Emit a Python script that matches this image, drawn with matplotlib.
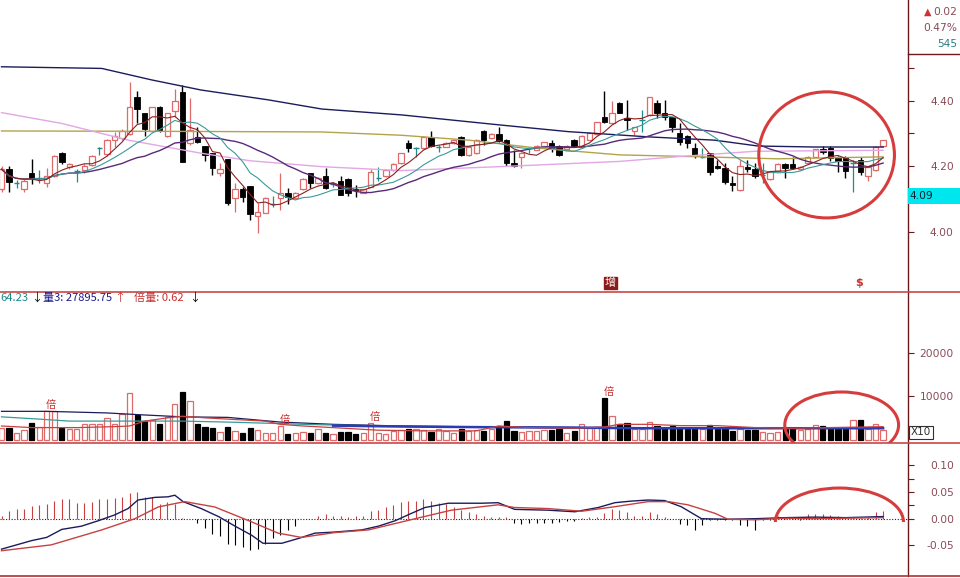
import matplotlib
matplotlib.use("Agg")
import matplotlib.pyplot as plt
import matplotlib.transforms as mtransforms
import pandas as pd
from matplotlib.patches import Ellipse, Arc, Rectangle
from matplotlib.lines import Line2D

# ---- price data (one candle per day) ----
opens = [4.13, 4.19, 4.147, 4.13, 4.178, 4.163, 4.147, 4.168, 4.239, 4.196,
         4.186, 4.188, 4.203, 4.254, 4.237, 4.278, 4.285, 4.298, 4.410, 4.361,
         4.308, 4.379, 4.292, 4.369, 4.427, 4.270, 4.290, 4.261, 4.239, 4.180,
         4.221, 4.102, 4.129, 4.139, 4.048, 4.058, 4.084, 4.101, 4.119, 4.102,
         4.129, 4.178, 4.147, 4.168, 4.145, 4.153, 4.160, 4.131, 4.119, 4.137,
         4.163, 4.168, 4.188, 4.209, 4.270, 4.254, 4.254, 4.290, 4.259, 4.259,
         4.270, 4.290, 4.234, 4.239, 4.308, 4.285, 4.298, 4.280, 4.209, 4.229,
         4.254, 4.250, 4.261, 4.270, 4.261, 4.251, 4.280, 4.257, 4.280, 4.298,
         4.351, 4.331, 4.392, 4.346, 4.308, 4.341, 4.356, 4.392, 4.363, 4.349,
         4.300, 4.292, 4.254, 4.229, 4.239, 4.200, 4.193, 4.149, 4.127, 4.198,
         4.190, 4.173, 4.160, 4.186, 4.206, 4.206, 4.190, 4.209, 4.229, 4.251,
         4.254, 4.229, 4.229, 4.209, 4.219, 4.168, 4.188, 4.261]
highs = [4.20, 4.20, 4.158, 4.16, 4.222, 4.188, 4.193, 4.235, 4.242, 4.210,
         4.19, 4.205, 4.235, 4.259, 4.283, 4.305, 4.312, 4.457, 4.430, 4.361,
         4.381, 4.383, 4.363, 4.436, 4.448, 4.407, 4.320, 4.262, 4.240, 4.208,
         4.222, 4.147, 4.135, 4.140, 4.086, 4.104, 4.108, 4.178, 4.132, 4.121,
         4.162, 4.180, 4.165, 4.193, 4.150, 4.168, 4.162, 4.143, 4.131, 4.190,
         4.198, 4.192, 4.208, 4.241, 4.280, 4.257, 4.292, 4.308, 4.264, 4.272,
         4.282, 4.292, 4.259, 4.282, 4.309, 4.300, 4.318, 4.282, 4.250, 4.243,
         4.258, 4.263, 4.274, 4.280, 4.263, 4.263, 4.282, 4.294, 4.304, 4.335,
         4.430, 4.400, 4.394, 4.402, 4.320, 4.371, 4.412, 4.402, 4.402, 4.350,
         4.330, 4.294, 4.270, 4.254, 4.241, 4.218, 4.208, 4.168, 4.218, 4.218,
         4.208, 4.208, 4.185, 4.208, 4.208, 4.228, 4.200, 4.231, 4.253, 4.261,
         4.261, 4.231, 4.231, 4.219, 4.229, 4.200, 4.261, 4.280]
lows = [4.12, 4.12, 4.132, 4.12, 4.145, 4.147, 4.137, 4.165, 4.205, 4.190,
        4.15, 4.18, 4.20, 4.234, 4.232, 4.259, 4.280, 4.296, 4.331, 4.292,
        4.305, 4.305, 4.290, 4.351, 4.211, 4.264, 4.270, 4.214, 4.173, 4.168,
        4.081, 4.061, 4.091, 4.035, 3.995, 4.056, 4.076, 4.066, 4.084, 4.100,
        4.127, 4.132, 4.145, 4.130, 4.135, 4.112, 4.107, 4.105, 4.117, 4.135,
        4.155, 4.166, 4.186, 4.207, 4.244, 4.229, 4.252, 4.259, 4.244, 4.257,
        4.268, 4.232, 4.232, 4.237, 4.264, 4.283, 4.273, 4.200, 4.198, 4.193,
        4.240, 4.248, 4.259, 4.244, 4.232, 4.249, 4.259, 4.255, 4.278, 4.296,
        4.331, 4.329, 4.361, 4.310, 4.295, 4.305, 4.354, 4.346, 4.341, 4.305,
        4.264, 4.254, 4.224, 4.224, 4.173, 4.191, 4.145, 4.125, 4.125, 4.183,
        4.163, 4.148, 4.158, 4.184, 4.163, 4.190, 4.188, 4.207, 4.227, 4.237,
        4.214, 4.183, 4.163, 4.122, 4.173, 4.153, 4.186, 4.259]
closes = [4.19, 4.15, 4.147, 4.153, 4.163, 4.163, 4.168, 4.231, 4.211, 4.206,
          4.186, 4.200, 4.231, 4.254, 4.280, 4.292, 4.308, 4.379, 4.373, 4.312,
          4.379, 4.308, 4.361, 4.400, 4.211, 4.310, 4.272, 4.234, 4.193, 4.190,
          4.088, 4.129, 4.105, 4.054, 4.060, 4.102, 4.084, 4.117, 4.105, 4.119,
          4.160, 4.147, 4.162, 4.132, 4.145, 4.112, 4.119, 4.127, 4.129, 4.183,
          4.163, 4.188, 4.206, 4.239, 4.254, 4.254, 4.290, 4.261, 4.259, 4.270,
          4.280, 4.234, 4.257, 4.280, 4.280, 4.298, 4.275, 4.209, 4.200, 4.241,
          4.254, 4.261, 4.272, 4.254, 4.234, 4.261, 4.261, 4.292, 4.302, 4.333,
          4.333, 4.363, 4.363, 4.342, 4.318, 4.341, 4.410, 4.363, 4.351, 4.320,
          4.272, 4.270, 4.231, 4.229, 4.183, 4.193, 4.152, 4.142, 4.200, 4.190,
          4.170, 4.173, 4.183, 4.206, 4.193, 4.193, 4.198, 4.229, 4.251, 4.243,
          4.224, 4.214, 4.186, 4.209, 4.183, 4.198, 4.259, 4.278]

# long moving averages (candle index, price)
ma60_idx = [0, 8, 16.8, 26.5, 33, 42.5, 53, 66, 75, 82, 90, 100, 117]
ma60 = [4.363, 4.33, 4.279, 4.239, 4.216, 4.198, 4.186, 4.198, 4.207, 4.214, 4.229, 4.245, 4.248]
ma120_idx = [0, 20, 42.5, 53, 62, 71, 82, 93, 103, 117]
ma120 = [4.307, 4.306, 4.304, 4.294, 4.279, 4.255, 4.234, 4.228, 4.222, 4.228]
ma250_idx = [0, 13.3, 19.9, 26.5, 35.4, 42.5, 53.1, 66.3, 75.2, 85.8, 94.6, 100.4, 107.9, 117]
ma250 = [4.503, 4.498, 4.463, 4.432, 4.402, 4.374, 4.356, 4.325, 4.305, 4.289, 4.279, 4.261, 4.258, 4.258]

# ---- volume ----
volumes = [2850, 2850, 1720, 2250, 3970, 3000, 6590, 6590, 2850, 2620,
           2470, 3600, 3600, 3600, 5090, 3600, 5990, 10710, 5840, 4340,
           4570, 3600, 5320, 8240, 10940, 8990, 3600, 3070, 2700, 1870,
           3070, 2100, 1570, 2700, 2320, 1570, 1570, 3220, 1350, 1720,
           1870, 1720, 2620, 1720, 1350, 1870, 1870, 1350, 1720, 3970,
           1570, 1350, 2100, 2320, 2470, 2470, 2320, 1870, 2470, 2100,
           1570, 2470, 2100, 2320, 2100, 2470, 3220, 4340, 2100, 1870,
           2100, 2100, 2250, 2320, 2620, 1570, 2100, 3600, 2850, 3000,
           9590, 5470, 3600, 3820, 2470, 2470, 4120, 3220, 2850, 3220,
           2850, 2620, 2470, 2470, 3370, 2470, 2620, 2100, 2470, 2320,
           2320, 1870, 1720, 1870, 2470, 2470, 2320, 2470, 3370, 3220,
           2470, 2620, 2470, 4570, 4570, 2470, 3600, 2320]
bei_marks = [6, 37, 49, 80]

vma_navy_idx = [0, 6, 14, 18, 24, 30, 37, 44, 53, 64, 75, 85, 95, 105, 117]
vma_navy = [6590, 6590, 6220, 5840, 5320, 5200, 4120, 3600, 3220, 3000, 2900, 2850, 2850, 2850, 2850]
vma_teal_idx = [0, 5, 9, 18, 24, 30, 36, 40, 50, 60]
vma_teal = [5320, 4800, 4345, 4345, 4345, 4120, 3820, 3600, 3220, 2900]
vma_red_idx = [0, 4, 10, 15, 17, 19, 22, 24, 27, 30, 35, 37, 40, 44, 50, 56, 63,
               66, 70, 76, 80, 82, 86, 90, 95, 100, 105, 110, 117]
vma_red = [3220, 2850, 2850, 3070, 3220, 4345, 5090, 5470, 5090, 4800, 4340, 3600, 3220, 2850, 2250, 2100, 2100,
           3220, 2850, 2700, 3000, 3600, 3600, 3300, 3300, 2850, 2700, 2850, 3070]
vma_blue_idx = [44, 53, 64, 75, 85, 95, 105, 117]
vma_blue = [3300, 3100, 2950, 2850, 2700, 2700, 2700, 2700]

# ---- MACD ----
macd_hist = [0.006, 0.014, 0.019, 0.019, 0.023, 0.025, 0.027, 0.034, 0.036, 0.036,
             0.030, 0.030, 0.032, 0.036, 0.036, 0.039, 0.040, 0.048, 0.050, 0.040,
             0.040, 0.028, 0.032, 0.028, 0.001, 0.0, -0.008, -0.017, -0.028, -0.033,
             -0.048, -0.050, -0.053, -0.058, -0.056, -0.047, -0.037, -0.031, -0.022, -0.014,
             0.0, 0.0, 0.006, 0.009, 0.006, 0.006, 0.004, 0.006, 0.006, 0.014,
             0.016, 0.021, 0.025, 0.031, 0.034, 0.034, 0.037, 0.033, 0.030, 0.027,
             0.022, 0.017, 0.012, 0.009, 0.006, 0.004, 0.003, 0.004, -0.008, -0.009,
             -0.008, -0.008, -0.008, -0.008, -0.006, -0.005, -0.004, 0.001, 0.003, 0.004,
             0.010, 0.019, 0.017, 0.012, 0.006, 0.006, 0.012, 0.008, 0.004, 0.0,
             -0.010, -0.012, -0.022, -0.012, -0.003, -0.002, -0.002, -0.002, -0.012, -0.013,
             -0.022, -0.003, -0.002, 0.006, 0.002, 0.002, -0.002, 0.009, 0.009, 0.008,
             0.007, 0.006, 0.002, 0.002, 0.002, 0.003, 0.013, 0.014]
dif_idx = [0, 4.0, 6.0, 8.0, 10.6, 12.8, 15.0, 16.8, 18.1, 20.4, 22.1, 23.0, 24.1, 26.5, 28.8,
           31.0, 33.2, 34.7, 37.2, 39.4, 41.6, 44.2, 47.8, 50.0, 52.2, 54.4, 56.2, 59.3, 63.7,
           65.9, 68.1, 72.5, 76.1, 79.2, 81.4, 83.6, 85.8, 88.0, 90.2, 92.9, 96.4, 100, 104, 108, 112, 117]
dif = [-0.057, -0.041, -0.035, -0.020, -0.014, -0.004, 0.007, 0.019, 0.035, 0.040, 0.041, 0.044, 0.032, 0.019, 0.004,
       -0.014, -0.031, -0.046, -0.046, -0.037, -0.027, -0.025, -0.021, -0.014, -0.004, 0.010, 0.021, 0.029, 0.029,
       0.030, 0.0175, 0.016, 0.013, 0.021, 0.030, 0.033, 0.035, 0.034, 0.0225, 0.0, -0.001, 0.0, 0.002, 0.003, 0.002, 0.004]
dea_idx = [0, 6.6, 13.3, 17.7, 20.8, 24.3, 28.3, 33.2, 36.7, 39.8, 44.2, 48.7, 54.9, 59.7, 63.7,
           65.9, 68.1, 72.5, 77.0, 81.4, 85.8, 88.5, 91.1, 94.7, 96.4, 100, 104, 108, 112, 117]
dea = [-0.060, -0.049, -0.021, 0.0, 0.022, 0.032, 0.022, -0.006, -0.027, -0.035, -0.026, -0.021, 0.0, 0.016, 0.0225,
       0.026, 0.021, 0.019, 0.014, 0.0225, 0.032, 0.032, 0.026, 0.010, -0.001, -0.002, 0.001, 0.0, 0.001, 0.002]

n = len(closes)
xs = list(range(n))
cs = pd.Series(closes)
ma5 = cs.rolling(5, min_periods=1).mean()
ma10 = cs.rolling(10, min_periods=1).mean()
ma20 = cs.rolling(20, min_periods=1).mean()

W, H = 960.0, 578.0
fig = plt.figure(figsize=(9.6, 5.78), dpi=100)
fig.patch.set_facecolor("white")
axw = 908 / W
ax_p = fig.add_axes([0, 1 - 292 / H, axw, 292 / H])
ax_v = fig.add_axes([0, 1 - 443 / H, axw, 151 / H])
ax_m = fig.add_axes([0, 1 - 576 / H, axw, 133 / H])

up_col = "#e06a6a"
dn_col = "#000000"
doji_col = "#1f8a8a"
axis_col = "#6a1a1a"
lab_col = "#8a4a58"
sep_col = "#c84848"
circ_col = "#d63c3c"

# candles
for i in xs:
    o, h, l, c = opens[i], highs[i], lows[i], closes[i]
    if c > o:
        ax_p.vlines(i, l, h, color=up_col, lw=0.9, zorder=2)
        ax_p.bar(i, c - o, bottom=o, width=0.72, facecolor="white", edgecolor=up_col, lw=0.9, zorder=3)
    elif c < o:
        ax_p.vlines(i, l, h, color=dn_col, lw=1.0, zorder=2)
        ax_p.bar(i, o - c, bottom=c, width=0.72, facecolor=dn_col, edgecolor=dn_col, lw=0.6, zorder=3)
    else:
        ax_p.vlines(i, l, h, color=doji_col, lw=0.9, zorder=2)
        ax_p.hlines(o, i - 0.36, i + 0.36, color=doji_col, lw=1.0, zorder=3)

ax_p.plot(ma250_idx, ma250, color="#1c1c5c", lw=1.0, zorder=4)
ax_p.plot(ma120_idx, ma120, color="#b3a44a", lw=1.0, zorder=4)
ax_p.plot(ma60_idx, ma60, color="#e3a6e6", lw=1.0, zorder=4)
ax_p.plot(xs, ma20, color="#5a2a7a", lw=1.0, zorder=4)
ax_p.plot(xs, ma10, color="#3a9a9a", lw=0.8, zorder=4)
ax_p.plot(xs, ma5, color="#8b2020", lw=0.8, zorder=4)

ax_p.text(80.8, 3.842, "增", color="white", fontsize=8, ha="center", va="center",
          family=["Noto Sans CJK SC", "DejaVu Sans"],
          bbox=dict(boxstyle="square,pad=0.1", facecolor="#8b1a1a", edgecolor="#8b1a1a"))
ax_p.text(113.8, 3.842, "$", color="#c83030", fontsize=8, ha="center", va="center", fontweight="bold")

ax_p.add_patch(Ellipse((109.5, 4.234), 18, 0.385, fill=False, edgecolor=circ_col, lw=2.2, zorder=6, clip_on=False))

# volume
vfc = ["white" if closes[i] >= opens[i] else dn_col for i in xs]
vec = [up_col if closes[i] >= opens[i] else dn_col for i in xs]
ax_v.bar(xs, volumes, width=0.7, color=vfc, edgecolor=vec, lw=0.9, zorder=2)
ax_v.plot(vma_navy_idx, vma_navy, color="#1c1c5c", lw=0.9, zorder=3)
ax_v.plot(vma_teal_idx, vma_teal, color="#3a9a9a", lw=0.9, zorder=3)
ax_v.plot(vma_blue_idx, vma_blue, color="#2a3cb0", lw=1.8, zorder=3)
ax_v.plot(vma_red_idx, vma_red, color="#c84040", lw=0.9, zorder=3)
for k in bei_marks:
    ax_v.text(k - 0.1, volumes[k] + 200, "倍", color="#c83030", fontsize=7.5, ha="left", va="bottom",
              family=["Noto Sans CJK SC", "DejaVu Sans"], zorder=5)
ax_v.add_patch(Ellipse((111.5, 3450), 15.1, 15170, fill=False, edgecolor=circ_col, lw=2.2, zorder=6, clip_on=False))

# MACD
hcol = ["#c84040" if v > 0 else dn_col for v in macd_hist]
ax_m.vlines(xs, 0, macd_hist, colors=hcol, lw=0.8, zorder=2)
ax_m.axhline(0, color="#222222", lw=0.8, ls=(0, (1, 1.5)), zorder=1)
ax_m.plot(dif_idx, dif, color="#1c1c5c", lw=1.0, zorder=3)
ax_m.plot(dea_idx, dea, color="#c84040", lw=1.0, zorder=3)
ax_m.add_patch(Arc((111.2, -0.0062), 17.0, 0.1273, theta1=0, theta2=180, edgecolor=circ_col, lw=2.2, zorder=6))

ax_p.set_ylim(3.8153, 4.7069)
ax_v.set_ylim(-690, 34020)
ax_m.set_ylim(-0.1073, 0.1418)
for ax in (ax_p, ax_v, ax_m):
    ax.set_xlim(-0.2, 120.3)
    ax.set_facecolor("white")
    for s in ("top", "left", "bottom"):
        ax.spines[s].set_visible(False)
    ax.spines["right"].set_color(axis_col)
    ax.spines["right"].set_linewidth(1.0)
    ax.set_xticks([])
    ax.yaxis.tick_right()


def style_ticks(ax, ticks, labels, minor=None):
    ax.set_yticks(ticks)
    ax.set_yticklabels(labels)
    if minor:
        ax.set_yticks(minor, minor=True)
    ax.tick_params(axis="y", which="both", length=4, width=0.8, color=axis_col,
                   labelcolor=lab_col, labelsize=7.7, pad=29)
    for lab in ax.get_yticklabels():
        lab.set_horizontalalignment("right")


style_ticks(ax_p, [4.0, 4.2, 4.4], ["4.00", "4.20", "4.40"], [4.1, 4.3, 4.5])
style_ticks(ax_v, [10000, 20000], ["10000", "20000"])
style_ticks(ax_m, [-0.05, 0.0, 0.05, 0.10], ["-0.05", "0.00", "0.05", "0.10"], [0.025, 0.075])

# 4.09 marker on the price scale
tr = mtransforms.blended_transform_factory(ax_p.transAxes, ax_p.transData)
ax_p.add_patch(Rectangle((1.0, 4.085), 52 / 908, 0.048, transform=tr, facecolor="#00e6ef",
                         edgecolor="none", clip_on=False, zorder=7))
ax_p.text(1.002, 4.109, "4.09", transform=tr, color="#102030", fontsize=7.7, ha="left", va="center",
          clip_on=False, zorder=8)

ax_v.text(1.003, 0.07, "X10", transform=ax_v.transAxes, color="#303030", fontsize=7.5, ha="left", va="center",
          bbox=dict(boxstyle="square,pad=0.15", facecolor="white", edgecolor="#303030", lw=0.8), clip_on=False)

# panel separators and header box
for yy in (292, 443):
    fig.add_artist(Line2D([0, 1], [1 - yy / H] * 2, transform=fig.transFigure, color=sep_col, lw=1.2))
fig.add_artist(Line2D([0, 1], [1 - 576 / H] * 2, transform=fig.transFigure, color="#b03030", lw=1.2))
fig.add_artist(Line2D([908 / W, 1], [1 - 54 / H] * 2, transform=fig.transFigure, color=axis_col, lw=1.0))

fig.text(957 / W, 1 - 12 / H, "0.02", color=lab_col, fontsize=7.7, ha="right", va="center")
fig.text(931 / W, 1 - 12 / H, "▲", color="#d03030", fontsize=7, ha="right", va="center")
fig.text(957 / W, 1 - 28 / H, "0.47%", color=lab_col, fontsize=7.7, ha="right", va="center")
fig.text(957 / W, 1 - 44 / H, "545", color="#2a8080", fontsize=7.7, ha="right", va="center")

cjk = ["Noto Sans CJK SC", "DejaVu Sans"]
hy = 1 - 298 / H
fig.text(0 / W, hy, "64.23", color="#1a8a8a", fontsize=8, va="center", family=cjk)
fig.text(31 / W, hy, "↓", color="black", fontsize=8, va="center", family=cjk)
fig.text(43 / W, hy, "量3: 27895.75", color="#1a1a8a", fontsize=8, va="center", family=cjk)
fig.text(114 / W, hy, "↑", color="#d03030", fontsize=8, va="center", family=cjk)
fig.text(134 / W, hy, "倍量: 0.62", color="#c83030", fontsize=8, va="center", family=cjk)
fig.text(189 / W, hy, "↓", color="black", fontsize=8, va="center", family=cjk)

fig.savefig("out.png", dpi=100)
